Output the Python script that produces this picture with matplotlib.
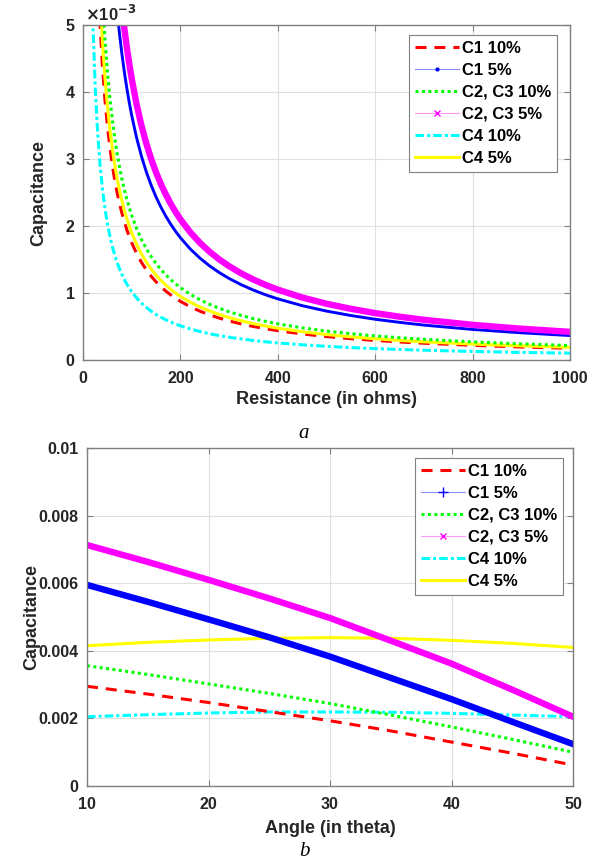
import matplotlib
matplotlib.use("Agg")
import matplotlib.pyplot as plt
from matplotlib.lines import Line2D

plt.rcParams['font.family'] = ['Liberation Sans', 'DejaVu Sans']
plt.rcParams['font.weight'] = 'bold'

# ---------------- data: panel a (capacitance in units of 1e-3) ----------------
resistance = [10, 15, 20, 25, 30, 35, 40, 45, 50, 55, 60, 65, 70, 75, 80, 85, 90, 95, 100,
              110, 120, 130, 140, 150, 160, 170, 180, 190, 200, 220, 240, 260, 280, 300,
              325, 350, 375, 400, 450, 500, 550, 600, 650, 700, 800, 900, 1000]
a_c4_10 = [10.2, 6.8, 5.1, 4.08, 3.4, 2.914, 2.55, 2.267, 2.04, 1.855, 1.7, 1.569, 1.457, 1.36, 1.275,
           1.2, 1.133, 1.074, 1.02, 0.927, 0.85, 0.785, 0.729, 0.68, 0.6375, 0.6, 0.567, 0.537, 0.51,
           0.464, 0.425, 0.392, 0.364, 0.34, 0.314, 0.291, 0.272, 0.255, 0.227, 0.204, 0.185, 0.17,
           0.157, 0.146, 0.1275, 0.113, 0.102]
a_c1_10 = [17.5, 11.67, 8.75, 7.0, 5.83, 5.0, 4.375, 3.889, 3.5, 3.182, 2.917, 2.692, 2.5, 2.333, 2.188,
           2.059, 1.944, 1.842, 1.75, 1.591, 1.458, 1.346, 1.25, 1.167, 1.094, 1.029, 0.972, 0.921, 0.875,
           0.795, 0.729, 0.673, 0.625, 0.583, 0.538, 0.5, 0.467, 0.4375, 0.389, 0.35, 0.318, 0.292,
           0.269, 0.25, 0.219, 0.194, 0.175]
a_c4_5 = [19.0, 12.67, 9.5, 7.6, 6.33, 5.43, 4.75, 4.222, 3.8, 3.455, 3.167, 2.923, 2.714, 2.533, 2.375,
          2.235, 2.111, 2.0, 1.9, 1.727, 1.583, 1.462, 1.357, 1.267, 1.1875, 1.118, 1.056, 1.0, 0.95,
          0.864, 0.792, 0.731, 0.679, 0.633, 0.585, 0.543, 0.507, 0.475, 0.422, 0.38, 0.345, 0.317,
          0.292, 0.271, 0.2375, 0.211, 0.19]
a_c23_10 = [21.6, 14.4, 10.8, 8.64, 7.2, 6.171, 5.4, 4.8, 4.32, 3.927, 3.6, 3.323, 3.086, 2.88, 2.7,
            2.541, 2.4, 2.274, 2.16, 1.964, 1.8, 1.662, 1.543, 1.44, 1.35, 1.271, 1.2, 1.137, 1.08,
            0.982, 0.9, 0.831, 0.771, 0.72, 0.665, 0.617, 0.576, 0.54, 0.48, 0.432, 0.393, 0.36,
            0.332, 0.309, 0.27, 0.24, 0.216]
a_c1_5 = [36.5, 24.33, 18.25, 14.6, 12.17, 10.43, 9.125, 8.111, 7.3, 6.636, 6.083, 5.615, 5.214, 4.867,
          4.5625, 4.294, 4.056, 3.842, 3.65, 3.318, 3.042, 2.808, 2.607, 2.433, 2.281, 2.147, 2.028,
          1.921, 1.825, 1.659, 1.521, 1.404, 1.304, 1.217, 1.123, 1.043, 0.973, 0.9125, 0.811, 0.73,
          0.664, 0.608, 0.562, 0.521, 0.456, 0.406, 0.365]
a_c23_5 = [42.0, 28.0, 21.0, 16.8, 14.0, 12.0, 10.5, 9.333, 8.4, 7.636, 7.0, 6.462, 6.0, 5.6, 5.25,
           4.941, 4.667, 4.421, 4.2, 3.818, 3.5, 3.231, 3.0, 2.8, 2.625, 2.471, 2.333, 2.211, 2.1,
           1.909, 1.75, 1.615, 1.5, 1.4, 1.292, 1.2, 1.12, 1.05, 0.933, 0.84, 0.764, 0.7, 0.646,
           0.6, 0.525, 0.467, 0.42]

# ---------------- data: panel b ----------------
angle = [10, 15, 20, 25, 30, 35, 40, 45, 50]
b_c1_10 = [0.00295, 0.00272, 0.00247, 0.00220, 0.00193, 0.00163, 0.00130, 0.00097, 0.00062]
b_c1_5 = [0.00595, 0.00545, 0.00493, 0.00440, 0.00383, 0.00320, 0.00257, 0.00190, 0.00124]
b_c23_10 = [0.00356, 0.00330, 0.00302, 0.00274, 0.00244, 0.00210, 0.00175, 0.00138, 0.00100]
b_c23_5 = [0.00713, 0.00663, 0.00610, 0.00555, 0.00497, 0.00430, 0.00362, 0.00285, 0.00205]
b_c4_10 = [0.00205, 0.00211, 0.00216, 0.00219, 0.00219, 0.00218, 0.00215, 0.00210, 0.00205]
b_c4_5 = [0.00415, 0.00425, 0.00432, 0.00437, 0.00439, 0.00437, 0.00431, 0.00422, 0.00410]

labels = ['C1 10%', 'C1 5%', 'C2, C3 10%', 'C2, C3 5%', 'C4 10%', 'C4 5%']

tick_col = (0.15, 0.15, 0.15)
spine_col = (0.5, 0.5, 0.5)

fig = plt.figure(figsize=(6.08, 8.66), dpi=100)
ax1 = fig.add_axes([83/608, 1-360/866, 487/608, 335/866])
ax2 = fig.add_axes([87/608, 1-786/866, 486/608, 338/866])

red_dash = (0, (3.6, 2.6))
cyan_dd = (0, (2.8, 1.0, 1.0, 1.0))
green_dot = (0, (1, 1.1))
LW = 2.2


def style(ax):
    for s in ax.spines.values():
        s.set_color(spine_col)
        s.set_linewidth(1.0)
    ax.tick_params(direction='in', length=4, width=0.8, colors=spine_col,
                   labelcolor=tick_col, labelsize=11.5, top=True, right=True)
    ax.tick_params(axis='x', pad=8)
    ax.tick_params(axis='y', pad=6)
    for lab in ax.get_xticklabels() + ax.get_yticklabels():
        lab.set_fontweight('bold')
    ax.grid(True, color=(0.88, 0.88, 0.88), linewidth=0.8)
    ax.set_axisbelow(True)


def legend_handles(blue_marker, blue_ms):
    return [
        Line2D([], [], color='red', lw=LW, linestyle=red_dash),
        Line2D([], [], color=(0.55, 0.55, 1.0), lw=0.8, marker=blue_marker, ms=blue_ms,
               mfc='blue', mec='blue', mew=1.0),
        Line2D([], [], color=(0, 1, 0), lw=LW, linestyle=green_dot),
        Line2D([], [], color=(1, 0.6, 1), lw=0.8, marker='x', ms=5, mec='magenta', mew=1.0),
        Line2D([], [], color='cyan', lw=LW, linestyle=cyan_dd),
        Line2D([], [], color='yellow', lw=LW),
    ]


def make_legend(ax, handles, anchor):
    leg = ax.legend(handles, labels, loc='upper right', bbox_to_anchor=anchor,
                    prop={'weight': 'bold', 'size': 12}, frameon=True, fancybox=False,
                    borderaxespad=0.0, handlelength=2.6, handletextpad=0.2,
                    labelspacing=0.42, borderpad=0.35, framealpha=1.0)
    leg.get_frame().set_edgecolor(spine_col)
    leg.get_frame().set_linewidth(0.8)
    for t in leg.get_texts():
        t.set_color('black')
    return leg


# panel a
ax1.plot(resistance, a_c4_10, color='cyan', lw=LW, linestyle=cyan_dd)
ax1.plot(resistance, a_c1_10, color='red', lw=LW, linestyle=red_dash)
ax1.plot(resistance, a_c4_5, color='yellow', lw=LW)
ax1.plot(resistance, a_c23_10, color=(0, 1, 0), lw=LW, linestyle=green_dot)
ax1.plot(resistance, a_c1_5, color='blue', lw=2.1)
ax1.plot(resistance, a_c23_5, color='magenta', lw=4.6)
ax1.set_xlim(0, 1000)
ax1.set_ylim(0, 5)
ax1.set_xticks([0, 200, 400, 600, 800, 1000])
ax1.set_yticks([0, 1, 2, 3, 4, 5])
style(ax1)
ax1.set_xlabel('Resistance (in ohms)', fontsize=13, fontweight='bold', color=tick_col)
ax1.set_ylabel('Capacitance', fontsize=13, fontweight='bold', color=tick_col)
ax1.xaxis.set_label_coords(0.5, -0.093)
ax1.yaxis.set_label_coords(-0.074, 0.5)
ax1.text(0.005, 1.003, r'$\times$10$^{\mathbf{-3}}$', transform=ax1.transAxes, fontsize=12,
         fontweight='bold', color=tick_col, ha='left', va='bottom')
make_legend(ax1, legend_handles('.', 4), ((557-83)/487, 1-(35-25)/335))

# panel b
ax2.plot(angle, b_c4_5, color='yellow', lw=LW)
ax2.plot(angle, b_c4_10, color='cyan', lw=LW, linestyle=cyan_dd)
ax2.plot(angle, b_c23_10, color=(0, 1, 0), lw=LW, linestyle=green_dot)
ax2.plot(angle, b_c1_10, color='red', lw=LW, linestyle=red_dash)
ax2.plot(angle, b_c1_5, color='blue', lw=4.6)
ax2.plot(angle, b_c23_5, color='magenta', lw=4.6)
ax2.set_xlim(10, 50)
ax2.set_ylim(0, 0.01)
ax2.set_xticks([10, 20, 30, 40, 50])
ax2.set_yticks([0, 0.002, 0.004, 0.006, 0.008, 0.01])
ax2.set_yticklabels(['0', '0.002', '0.004', '0.006', '0.008', '0.01'])
style(ax2)
ax2.set_xlabel('Angle (in theta)', fontsize=13, fontweight='bold', color=tick_col)
ax2.set_ylabel('Capacitance', fontsize=13, fontweight='bold', color=tick_col)
ax2.xaxis.set_label_coords(0.5, -0.102)
ax2.yaxis.set_label_coords(-0.097, 0.5)
make_legend(ax2, legend_handles('+', 7), ((563-87)/486, 1-(459-449)/338))

# captions
fig.text(304/608, 1-433/866, 'a', family='Liberation Serif', style='italic', fontsize=15,
         fontweight='normal', ha='center', va='center')
fig.text(304/608, 1-852/866, 'b', family='Liberation Serif', style='italic', fontsize=15,
         fontweight='normal', ha='center', va='center')

fig.savefig('out.png', dpi=100)
